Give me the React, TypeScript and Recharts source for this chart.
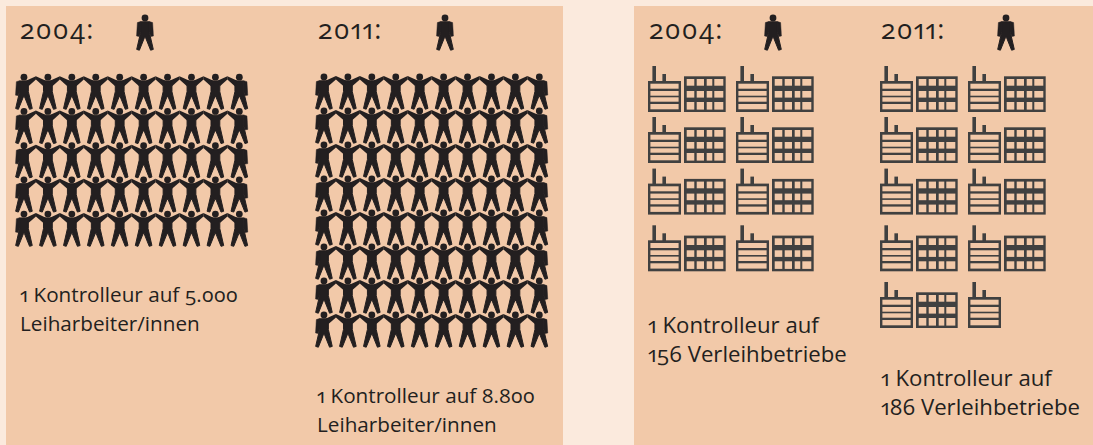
import { ScatterChart, Scatter, XAxis, YAxis } from 'recharts';

const DARK = '#231f20';
const GREY = '#404040';
const PANEL = '#f2c9a9';
const PAGE = '#fbeadd';

// one icon = 100 Leiharbeiter/innen
const workers2004 = 50;
const workers2011 = 80;
// one icon = roughly 10 Betriebe
const firms2004 = 16;
const firms2011 = 19;
const controllers = 1;

const years = ['2004:', '2011:'];
const workerNotes = [
    ['1 Kontrolleur auf 5.000', 'Leiharbeiter/innen'],
    ['1 Kontrolleur auf 8.800', 'Leiharbeiter/innen'],
];
const firmNotes = [
    ['1 Kontrolleur auf', '156 Verleihbetriebe'],
    ['1 Kontrolleur auf', '186 Verleihbetriebe'],
];

const PAD = 8;
// the factory rows are not evenly spaced in the original
const FIRM_ROW_NUDGE = [0, -3, -5.4, -2.7, 0];

function buildPoints(count: number, cols: number) {
    return Array.from({ length: count }, (_, i) => ({ col: i % cols, row: Math.floor(i / cols) }));
}

const BODY = 'M-4.4 3.8 L4.4 3.8 L4.4 14.5 L8.3 31.4 L5.6 32.2 L0.5 19.5 L-0.5 19.5 L-5.6 32.2 L-8.3 31.4 L-4.4 14.5 Z';

function Person({ cx, cy, left, right }: { cx: number; cy: number; left: boolean; right: boolean }) {
    const y = cy - 15;
    return (
        <g transform={`translate(${cx},${y})`} fill={DARK} stroke={DARK} strokeLinejoin="round">
            <circle cx={0} cy={0} r={3.4} stroke="none" />
            <path d={BODY} strokeWidth={1} />
            {left ? (
                <path d="M-4.4 3.6 L-7.6 4.6 L-8.4 18 L-5.8 18.4 L-4.2 14 Z" strokeWidth={0.5} />
            ) : (
                <path d="M-2 3.6 L-12 -1 L-12 2.4 L-4.5 9 Z" stroke="none" />
            )}
            {right ? (
                <path d="M4.4 3.6 L7.6 4.6 L8.4 18 L5.8 18.4 L4.2 14 Z" strokeWidth={0.5} />
            ) : (
                <path d="M2 3.6 L12 -1 L12 2.4 L4.5 9 Z" stroke="none" />
            )}
        </g>
    );
}

const slatYs = [17.7, 25, 31.3, 38];
const slatHs = [5, 4.7, 4.4, 5.3];

function Factory({ cx, cy }: { cx: number; cy: number }) {
    const x = cx - 18;
    const y = cy - 23;
    return (
        <g fill={GREY}>
            <rect x={x + 4.4} y={y} width={3.6} height={16} />
            <rect x={x + 14.4} y={y + 8} width={3.6} height={8} />
            <rect x={x} y={y + 15} width={33} height={31} />
            {slatYs.map((dy, i) => (
                <rect key={dy} x={x + 2.4} y={y + dy} width={28.2} height={slatHs[i]} fill={PANEL} />
            ))}
        </g>
    );
}

const cellXs = [2.7, 12.7, 22.7, 30.3];
const cellWs = [7.6, 7.3, 5.6, 9];
const cellYs = [2.7, 14.7, 25.7];
const cellHs = [6.7, 6.6, 7.6];

function Block({ cx, cy }: { cx: number; cy: number }) {
    const x = cx - 26;
    const y = cy - 12.7;
    return (
        <g>
            <rect x={x} y={y} width={41.7} height={35.7} fill={GREY} />
            {cellYs.map((cy2, r) =>
                cellXs.map((cx2, c) => (
                    <rect key={`${r}-${c}`} x={x + cx2} y={y + cy2} width={cellWs[c]} height={cellHs[r]} fill={PANEL} />
                ))
            )}
        </g>
    );
}

type GridProps = {
    count: number;
    cols: number;
    rows: number;
    left: number;
    top: number;
    pitchX: number;
    pitchY: number;
    shape: (props: any) => any;
};

function IconGrid({ count, cols, rows, left, top, pitchX, pitchY, shape }: GridProps) {
    const width = cols * pitchX + PAD * 2;
    const height = rows * pitchY + PAD * 2;
    return (
        <div style={{ position: 'absolute', left: left - PAD, top: top - PAD }}>
            <ScatterChart width={width} height={height} margin={{ top: PAD, right: PAD, bottom: PAD, left: PAD }}>
                <XAxis type="number" dataKey="col" domain={[-0.5, cols - 0.5]} hide />
                <YAxis type="number" dataKey="row" domain={[-0.5, rows - 0.5]} reversed hide />
                <Scatter data={buildPoints(count, cols)} shape={shape} isAnimationActive={false} />
            </ScatterChart>
        </div>
    );
}

const personShape = (cols: number) => (p: any) => (
    <Person cx={p.cx} cy={p.cy} left={p.payload.col === 0} right={p.payload.col === cols - 1} />
);
const soloShape = personShape(1);
const peopleShape = personShape(10);
const firmShape = (p: any) => {
    const cy = p.cy + FIRM_ROW_NUDGE[p.payload.row];
    return p.payload.col % 2 === 0 ? <Factory cx={p.cx} cy={cy} /> : <Block cx={p.cx} cy={cy} />;
};

const textFont = {
    position: 'absolute' as const,
    fontFamily: '"Open Sans", sans-serif',
    fontVariantNumeric: 'oldstyle-nums proportional-nums',
    color: DARK,
    whiteSpace: 'nowrap' as const,
};

function Year({ x, label }: { x: number; label: string }) {
    return <div style={{ ...textFont, left: x, top: 13, fontSize: 27, fontWeight: 500, lineHeight: '32px', letterSpacing: 1.2 }}>{label}</div>;
}

function Note({ x, y, size, lines }: { x: number; y: number; size: number; lines: string[] }) {
    return (
        <div style={{ ...textFont, left: x, top: y, fontSize: size, lineHeight: '29px' }}>
            {lines.map((l) => (
                <div key={l}>{l}</div>
            ))}
        </div>
    );
}

export default function App() {
    return (
        <div style={{ position: 'absolute', left: 0, top: 0, width: 1093, height: 445, background: PAGE, overflow: 'hidden' }}>
            <div style={{ position: 'absolute', left: 6, top: 6, width: 557, height: 439, background: PANEL }} />
            <div style={{ position: 'absolute', left: 634, top: 6, width: 459, height: 439, background: PANEL }} />

            <Year x={20} label={years[0]} />
            <Year x={318} label={years[1]} />
            <Year x={649} label={years[0]} />
            <Year x={881} label={years[1]} />

            <IconGrid count={controllers} cols={1} rows={1} left={124.5} top={13} pitchX={40} pitchY={40} shape={soloShape} />
            <IconGrid count={controllers} cols={1} rows={1} left={425} top={13} pitchX={40} pitchY={40} shape={soloShape} />
            <IconGrid count={controllers} cols={1} rows={1} left={753.3} top={13} pitchX={40} pitchY={40} shape={soloShape} />
            <IconGrid count={controllers} cols={1} rows={1} left={986} top={13} pitchX={40} pitchY={40} shape={soloShape} />

            <IconGrid count={workers2004} cols={10} rows={5} left={11.8} top={75} pitchX={23.93} pitchY={34.25} shape={peopleShape} />
            <IconGrid count={workers2011} cols={10} rows={8} left={312} top={75} pitchX={23.93} pitchY={34} shape={peopleShape} />

            <IconGrid count={firms2004} cols={4} rows={4} left={644.2} top={61.7} pitchX={44} pitchY={54} shape={firmShape} />
            <IconGrid count={firms2011} cols={4} rows={5} left={876.4} top={61.7} pitchX={44} pitchY={54} shape={firmShape} />

            <Note x={20} y={280} size={20.7} lines={workerNotes[0]} />
            <Note x={317} y={381} size={20.7} lines={workerNotes[1]} />
            <Note x={648} y={310} size={22.2} lines={firmNotes[0]} />
            <Note x={881} y={363} size={22.2} lines={firmNotes[1]} />
        </div>
    );
}
